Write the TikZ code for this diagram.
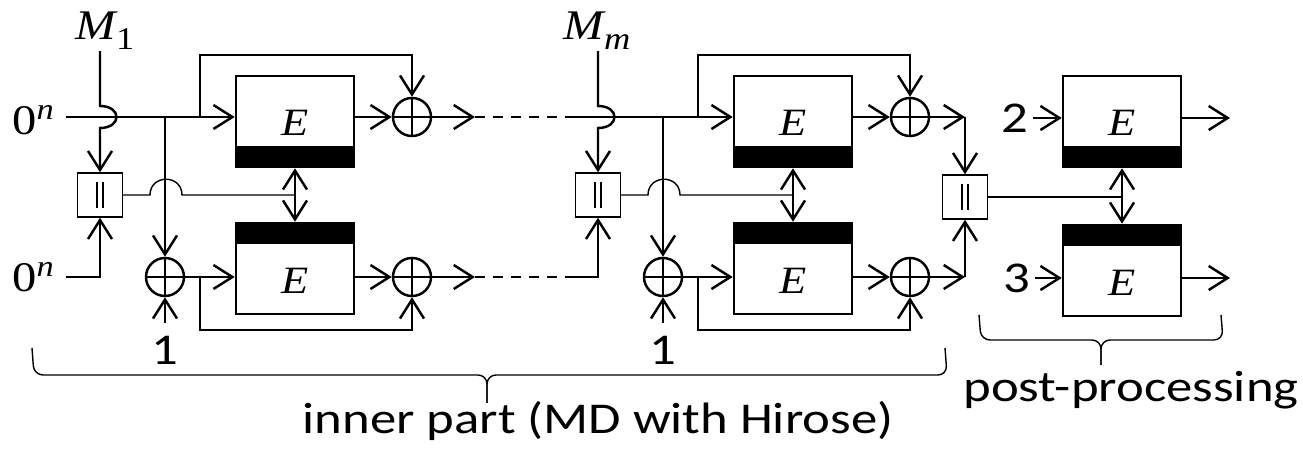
\documentclass[tikz,border=0pt]{standalone}
\usepackage{fontspec}
\setmainfont{Liberation Serif}
\setsansfont{Carlito}
\usetikzlibrary{arrows.meta,positioning,calc}
\newcommand{\wider}[1]{\scalebox{1.15}[1]{#1}}
\newcommand{\widest}[1]{\scalebox{1.2}[1]{#1}}
\newcommand{\zeron}{\wider{\upshape 0\raisebox{0.15cm}{\fontsize{8.5}{9}\selectfont\itshape n}}}

\begin{document}
\begin{tikzpicture}[
  x=0.01cm,y=-0.01cm,
  line width=0.7pt,
  arr/.style={-{Straight Barb[length=1.9mm,width=2.4mm]}},
  dbl/.style={{Straight Barb[length=1.9mm,width=2.4mm]}-{Straight Barb[length=1.9mm,width=2.4mm]}},
  thinline/.style={line width=0.4pt},
  brace/.style={thinline,rounded corners=0.09cm},
  ebox/.style={draw,minimum width=1.18cm,minimum height=0.91cm,inner sep=0pt,text depth=0pt,
    font=\rmfamily\itshape\fontsize{11}{12}\selectfont},
  eup/.style={ebox,text height=0.28cm,path picture={\fill (path picture bounding box.south west)
    rectangle ([yshift=0.21cm]path picture bounding box.south east);}},
  elow/.style={ebox,text height=0.49cm,path picture={\fill (path picture bounding box.north west)
    rectangle ([yshift=-0.21cm]path picture bounding box.north east);}},
  xor/.style={draw,circle,minimum size=0.38cm,inner sep=0pt,path picture={
    \draw (path picture bounding box.north) -- (path picture bounding box.south)
          (path picture bounding box.west) -- (path picture bounding box.east);}},
  cat/.style={draw,thinline,minimum width=0.45cm,minimum height=0.44cm,inner sep=0pt,path picture={
    \draw[thinline] ([xshift=-0.03cm,yshift=-0.125cm]path picture bounding box.center) -- ++(0,0.25cm)
                    ([xshift=0.03cm,yshift=-0.125cm]path picture bounding box.center) -- ++(0,0.25cm);}},
  lbl/.style={font=\sffamily\fontsize{12.5}{14}\selectfont},
  msym/.style={font=\rmfamily\itshape\fontsize{12}{14}\selectfont,inner sep=0pt}
]
\useasboundingbox (0,0) rectangle (1303,449);

% inputs
\node[msym,anchor=base east] (zt) at (55,135) {\zeron};
\node[msym,anchor=base east] (zb) at (55,292) {\zeron};
\coordinate (st1) at (66,117);
\coordinate (sb1) at (66,277);
\coordinate (ot1) at (475,117);
\coordinate (ob1) at (475,277);
\coordinate (st2) at (565,117);
\coordinate (sb2) at (565,277);
\coordinate (ot2) at (965,117);
\coordinate (ob2) at (965,277);

\foreach \i/\dx/\mx/\sub in {1/0/105/{\upshape 1},2/498/597/m}{
  \node[msym,anchor=base] (M\i) at (\mx,40)
    {\wider{M\raisebox{-0.1cm}{\fontsize{9}{10}\selectfont\sub}}};
  \node[cat] (cat\i) at (100+\dx,195) {};
  \node[xor] (xl\i) at (165+\dx,277) {};
  \node[eup] (Et\i) at (295+\dx,121.5) {\wider{E}};
  \node[elow] (Eb\i) at (295+\dx,268.5) {\wider{E}};
  \node[xor] (xt\i) at (412+\dx,117) {};
  \node[xor] (xb\i) at (412+\dx,277) {};
  \node[lbl] (one\i) at (165+\dx,350) {\widest{1}};
  % upper row
  \draw[arr] (st\i) -- (st\i -| Et\i.west);
  \draw[arr] (165+\dx,117) -- (xl\i.north);
  \draw[arr] (200+\dx,117) -- (200+\dx,55) -| (xt\i.north);
  \draw[arr] (M\i.south -| cat\i) -- (100+\dx,106)
    .. controls (122+\dx,106) and (122+\dx,128) .. (100+\dx,128) -- (cat\i.north);
  \draw[arr] (xt\i -| Et\i.east) -- (xt\i.west);
  \draw[arr] (xt\i.east) -- (ot\i);
  % key
  \draw[thinline] (cat\i.east) -- (150+\dx,195)
    .. controls (150+\dx,174) and (182+\dx,174) .. (182+\dx,195) -- (295+\dx,195);
  \draw[dbl] (Et\i.south) -- (Eb\i.north);
  % lower row
  \draw[arr] (sb\i) -| (cat\i.south);
  \draw[arr] (xl\i.east) -- (xl\i -| Eb\i.west);
  \draw[arr] (200+\dx,277) -- (200+\dx,330) -| (xb\i.south);
  \draw[arr] (one\i.north) -- (xl\i.south);
  \draw[arr] (xb\i -| Eb\i.east) -- (xb\i.west);
  \draw[arr] (xb\i.east) -- (ob\i);
}
\draw[dash pattern=on 0.1cm off 0.08cm] (ot1) -- (st2);
\draw[dash pattern=on 0.1cm off 0.08cm] (ob1) -- (sb2);

% post-processing
\node[cat] (cat3) at (965,197) {};
\node[eup] (E3) at (1122,121.5) {\wider{E}};
\node[elow] (E4) at (1122,270.5) {\wider{E}};
\node[lbl,inner sep=1pt] (two) at (1015,118) {\widest{2}};
\node[lbl,inner sep=1pt] (three) at (1017,278) {\widest{3}};
\coordinate (o3) at (1230,118);
\coordinate (o4) at (1230,278);
\draw[arr] (ot2) -- (cat3.north);
\draw[arr] (ob2) -- (cat3.south);
\draw[thinline] (cat3.east) -- (1122,197);
\draw[dbl] (E3.south) -- (E4.north);
\draw[arr] (two) -- (two -| E3.west);
\draw[arr] (three) -- (three -| E4.west);
\draw[arr] (two -| E3.east) -- (o3);
\draw[arr] (three -| E4.east) -- (o4);

% braces
\draw[brace] (32,348) -- (34,375) -- (487,375) -- (487,403);
\draw[brace] (487,403) -- (487,375) -- (947,375) -- (945,348);
\draw[brace] (979,315) -- (981,340) -- (1101,340) -- (1101,365);
\draw[brace] (1101,365) -- (1101,340) -- (1223,340) -- (1221,315);
\node[lbl,anchor=base] (inner) at (598,433) {\widest{inner part (MD with Hirose)}};
\node[lbl,anchor=base] (post) at (1131,402) {\widest{post-processing}};
\end{tikzpicture}
\end{document}
